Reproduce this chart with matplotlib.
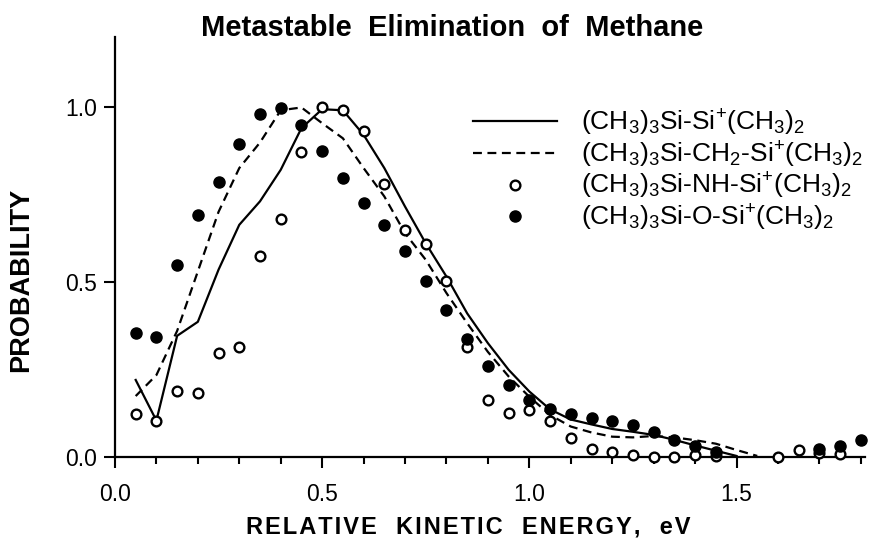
import matplotlib
matplotlib.use('Agg')
import matplotlib.pyplot as plt
import numpy as np
from matplotlib.ticker import MultipleLocator

plt.rcParams['font.family'] = ['Liberation Sans', 'DejaVu Sans']
plt.rcParams['mathtext.fontset'] = 'custom'
plt.rcParams['mathtext.rm'] = 'Liberation Sans'
plt.rcParams['mathtext.default'] = 'regular'

# solid line: (CH3)3Si-Si+(CH3)2
x_solid = [0.05, 0.10, 0.15, 0.20, 0.25, 0.30, 0.35, 0.40, 0.45, 0.50,
           0.55, 0.60, 0.65, 0.70, 0.75, 0.80, 0.85, 0.90, 0.95, 1.00,
           1.05, 1.10, 1.15, 1.20, 1.25, 1.30, 1.35, 1.40, 1.45, 1.50]
y_solid = [0.22, 0.104, 0.346, 0.386, 0.535, 0.663, 0.73, 0.82, 0.939, 0.993,
           0.99, 0.92, 0.825, 0.715, 0.61, 0.515, 0.41, 0.325, 0.249, 0.187,
           0.136, 0.107, 0.093, 0.08, 0.072, 0.063, 0.049, 0.033, 0.018, 0.003]

# dashed line: (CH3)3Si-CH2-Si+(CH3)2
x_dash = [0.05, 0.10, 0.15, 0.20, 0.25, 0.30, 0.35, 0.40, 0.45, 0.50,
          0.55, 0.60, 0.65, 0.70, 0.75, 0.80, 0.85, 0.90, 0.95, 1.00,
          1.05, 1.10, 1.15, 1.20, 1.25, 1.30, 1.35, 1.40, 1.45, 1.50, 1.55]
y_dash = [0.174, 0.234, 0.36, 0.53, 0.70, 0.825, 0.898, 0.99, 0.998, 0.953,
          0.91, 0.825, 0.744, 0.639, 0.563, 0.468, 0.382, 0.3, 0.23, 0.172,
          0.12, 0.087, 0.07, 0.058, 0.056, 0.06, 0.056, 0.048, 0.038, 0.02, 0.003]

# open circles: (CH3)3Si-NH-Si+(CH3)2
x_open = [0.05, 0.10, 0.15, 0.20, 0.25, 0.30, 0.35, 0.40, 0.45, 0.50,
          0.55, 0.60, 0.65, 0.70, 0.75, 0.80, 0.85, 0.90, 0.95, 1.00,
          1.05, 1.10, 1.15, 1.20, 1.25, 1.30, 1.35, 1.40, 1.45,
          1.60, 1.65, 1.70, 1.75]
y_open = [0.123, 0.104, 0.188, 0.182, 0.296, 0.313, 0.575, 0.679, 0.87, 0.998,
          0.99, 0.93, 0.779, 0.647, 0.607, 0.503, 0.313, 0.164, 0.127, 0.133,
          0.103, 0.055, 0.024, 0.013, 0.006, 0.0, 0.0, 0.007, 0.003,
          0.0, 0.02, 0.012, 0.008]

# filled circles: (CH3)3Si-O-Si+(CH3)2
x_fill = [0.05, 0.10, 0.15, 0.20, 0.25, 0.30, 0.35, 0.40, 0.45, 0.50,
          0.55, 0.60, 0.65, 0.70, 0.75, 0.80, 0.85, 0.90, 0.95, 1.00,
          1.05, 1.10, 1.15, 1.20, 1.25, 1.30, 1.35, 1.40, 1.45,
          1.70, 1.75, 1.80]
y_fill = [0.355, 0.343, 0.547, 0.69, 0.786, 0.895, 0.979, 0.996, 0.949, 0.875,
          0.798, 0.725, 0.661, 0.589, 0.503, 0.42, 0.338, 0.26, 0.205, 0.163,
          0.138, 0.122, 0.11, 0.103, 0.092, 0.072, 0.049, 0.032, 0.015,
          0.022, 0.03, 0.049]

labels = [r'(CH$_3$)$_3$Si-Si$^{+}$(CH$_3$)$_2$',
          r'(CH$_3$)$_3$Si-CH$_2$-Si$^{+}$(CH$_3$)$_2$',
          r'(CH$_3$)$_3$Si-NH-Si$^{+}$(CH$_3$)$_2$',
          r'(CH$_3$)$_3$Si-O-Si$^{+}$(CH$_3$)$_2$']

fig = plt.figure(figsize=(8.69, 5.4), dpi=100)
ax = fig.add_axes([0.1323, 0.1537, 0.8631, 0.7783])

ax.plot(x_solid, y_solid, color='black', lw=1.6, label=labels[0], zorder=2)
ax.plot(x_dash, y_dash, color='black', lw=1.6, dashes=(4, 2.5), label=labels[1], zorder=2)
ax.plot(x_open, y_open, 'o', ms=7, mfc='white', mec='black', mew=1.7,
        label=labels[2], zorder=3, clip_on=False)
ax.plot(x_fill, y_fill, 'o', ms=8, mfc='black', mec='black',
        label=labels[3], zorder=3, clip_on=False)

ax.set_xlim(0, 1.81)
ax.set_ylim(0, 1.2)
ax.set_xticks([0.0, 0.5, 1.0, 1.5])
ax.set_xticklabels(['0.0', '0.5', '1.0', '1.5'])
ax.xaxis.set_minor_locator(MultipleLocator(0.1))
ax.set_yticks([0.0, 0.5, 1.0])
ax.set_yticklabels(['0.0', '0.5', '1.0'])
ax.tick_params(axis='both', which='major', direction='out', length=8, width=1.5,
               labelsize=16.5)
ax.tick_params(axis='x', which='major', pad=11)
ax.tick_params(axis='y', which='major', pad=5)
ax.tick_params(axis='x', which='minor', direction='out', length=5, width=1.5)

for s in ['top', 'right']:
    ax.spines[s].set_visible(False)
for s in ['left', 'bottom']:
    ax.spines[s].set_linewidth(1.6)

# the x label in the original is letter-spaced
xlabel = '\u200a'.join('RELATIVE  KINETIC  ENERGY,  eV')
fig.text(0.539, 0.024, xlabel, fontsize=17, fontweight='bold',
         ha='center', va='center')
fig.text(0.024, 0.4815, 'PROBABILITY', fontsize=19.5, fontweight='bold',
         rotation=90, ha='center', va='center')

fig.text(0.52, 0.949, 'Metastable  Elimination  of  Methane', fontsize=21,
         fontweight='bold', ha='center', va='center')

ax.legend(loc='upper left', bbox_to_anchor=(0.477, 0.831), frameon=False,
          fontsize=19, handlelength=3.2, handletextpad=0.9, labelspacing=0.05,
          borderaxespad=0, borderpad=0)

fig.savefig('out.png', dpi=100)
